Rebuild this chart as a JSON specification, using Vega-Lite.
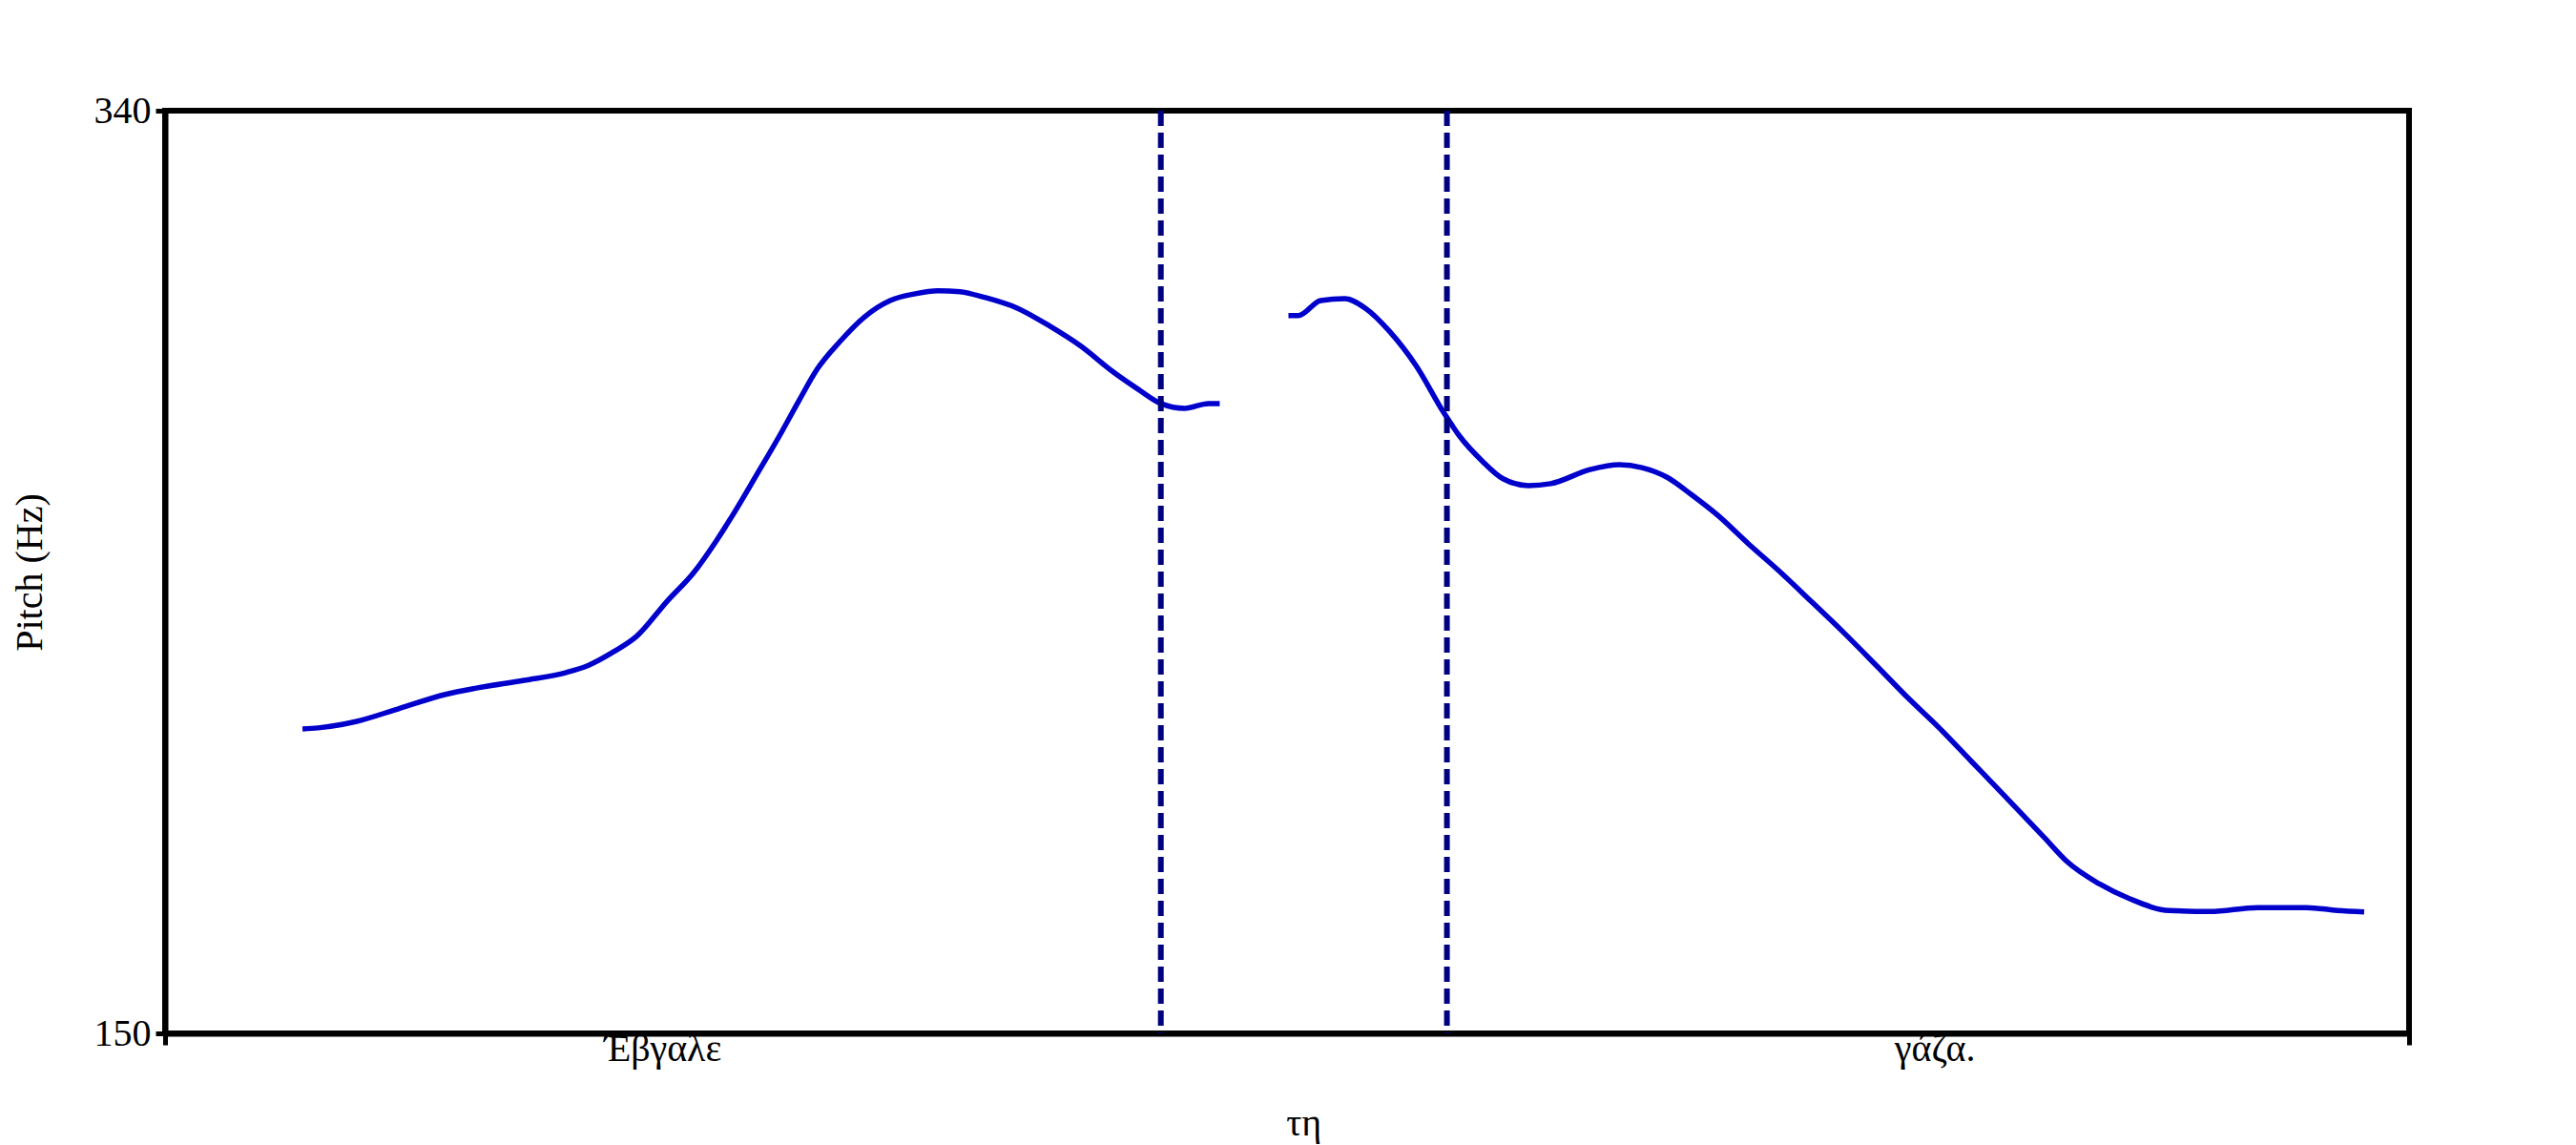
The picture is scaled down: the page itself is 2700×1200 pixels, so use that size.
{
  "$schema": "https://vega.github.io/schema/vega-lite/v6.json",
  "width": 2352,
  "height": 967,
  "autosize": {"type": "none"},
  "padding": {"left": 173, "top": 116, "right": 175, "bottom": 117},
  "background": "white",
  "config": {
    "view": {"stroke": "black", "strokeWidth": 6},
    "font": "Liberation Serif"
  },
  "datasets": {
    "pitch": [
      {"seg": "a", "t": 0.098, "hz": 212.7},
      {"seg": "a", "t": 0.109, "hz": 212.9},
      {"seg": "a", "t": 0.136, "hz": 214.2},
      {"seg": "a", "t": 0.166, "hz": 216.8},
      {"seg": "a", "t": 0.200, "hz": 219.8},
      {"seg": "a", "t": 0.222, "hz": 221.1},
      {"seg": "a", "t": 0.256, "hz": 222.7},
      {"seg": "a", "t": 0.286, "hz": 224.3},
      {"seg": "a", "t": 0.302, "hz": 225.8},
      {"seg": "a", "t": 0.320, "hz": 228.6},
      {"seg": "a", "t": 0.336, "hz": 231.7},
      {"seg": "a", "t": 0.358, "hz": 239.0},
      {"seg": "a", "t": 0.377, "hz": 244.9},
      {"seg": "a", "t": 0.393, "hz": 251.4},
      {"seg": "a", "t": 0.406, "hz": 257.3},
      {"seg": "a", "t": 0.422, "hz": 265.1},
      {"seg": "a", "t": 0.438, "hz": 273.0},
      {"seg": "a", "t": 0.452, "hz": 280.3},
      {"seg": "a", "t": 0.465, "hz": 286.8},
      {"seg": "a", "t": 0.481, "hz": 292.4},
      {"seg": "a", "t": 0.499, "hz": 297.6},
      {"seg": "a", "t": 0.517, "hz": 300.9},
      {"seg": "a", "t": 0.535, "hz": 302.3},
      {"seg": "a", "t": 0.551, "hz": 302.9},
      {"seg": "a", "t": 0.567, "hz": 302.7},
      {"seg": "a", "t": 0.585, "hz": 301.5},
      {"seg": "a", "t": 0.608, "hz": 299.3},
      {"seg": "a", "t": 0.631, "hz": 295.6},
      {"seg": "a", "t": 0.653, "hz": 291.5},
      {"seg": "a", "t": 0.676, "hz": 286.2},
      {"seg": "a", "t": 0.694, "hz": 282.6},
      {"seg": "a", "t": 0.710, "hz": 279.7},
      {"seg": "a", "t": 0.727, "hz": 278.7},
      {"seg": "a", "t": 0.744, "hz": 279.7},
      {"seg": "a", "t": 0.752, "hz": 279.7},
      {"seg": "b", "t": 0.801, "hz": 297.8},
      {"seg": "b", "t": 0.808, "hz": 297.8},
      {"seg": "b", "t": 0.824, "hz": 300.9},
      {"seg": "b", "t": 0.841, "hz": 301.3},
      {"seg": "b", "t": 0.856, "hz": 299.3},
      {"seg": "b", "t": 0.873, "hz": 294.6},
      {"seg": "b", "t": 0.892, "hz": 287.5},
      {"seg": "b", "t": 0.912, "hz": 277.7},
      {"seg": "b", "t": 0.923, "hz": 273.0},
      {"seg": "b", "t": 0.939, "hz": 267.9},
      {"seg": "b", "t": 0.954, "hz": 264.2},
      {"seg": "b", "t": 0.972, "hz": 262.8},
      {"seg": "b", "t": 0.988, "hz": 263.2},
      {"seg": "b", "t": 1.016, "hz": 266.1},
      {"seg": "b", "t": 1.037, "hz": 267.1},
      {"seg": "b", "t": 1.053, "hz": 266.5},
      {"seg": "b", "t": 1.071, "hz": 264.5},
      {"seg": "b", "t": 1.088, "hz": 261.0},
      {"seg": "b", "t": 1.107, "hz": 256.7},
      {"seg": "b", "t": 1.129, "hz": 250.8},
      {"seg": "b", "t": 1.152, "hz": 244.9},
      {"seg": "b", "t": 1.175, "hz": 238.6},
      {"seg": "b", "t": 1.197, "hz": 232.5},
      {"seg": "b", "t": 1.220, "hz": 225.8},
      {"seg": "b", "t": 1.243, "hz": 219.0},
      {"seg": "b", "t": 1.265, "hz": 212.9},
      {"seg": "b", "t": 1.288, "hz": 206.0},
      {"seg": "b", "t": 1.311, "hz": 199.1},
      {"seg": "b", "t": 1.340, "hz": 190.3},
      {"seg": "b", "t": 1.356, "hz": 185.4},
      {"seg": "b", "t": 1.379, "hz": 180.8},
      {"seg": "b", "t": 1.401, "hz": 177.7},
      {"seg": "b", "t": 1.429, "hz": 175.3},
      {"seg": "b", "t": 1.458, "hz": 175.1},
      {"seg": "b", "t": 1.492, "hz": 175.9},
      {"seg": "b", "t": 1.527, "hz": 175.9},
      {"seg": "b", "t": 1.549, "hz": 175.3},
      {"seg": "b", "t": 1.568, "hz": 175.0}
    ],
    "bounds": [
      {"t": 0.710},
      {"t": 0.914}
    ],
    "words": [
      {"word": "\u0388\u03b2\u03b3\u03b1\u03bb\u03b5", "t": 0.355, "hz": 144.3},
      {"word": "\u03c4\u03b7", "t": 0.812, "hz": 129.0},
      {"word": "\u03b3\u03ac\u03b6\u03b1.", "t": 1.262, "hz": 144.3}
    ]
  },
  "encoding": {
    "x": {
      "field": "t",
      "type": "quantitative",
      "scale": {"domain": [0, 1.6], "nice": false, "zero": false},
      "axis": {
        "title": null,
        "values": [0, 1.6],
        "labels": false,
        "grid": false,
        "domainColor": "black",
        "domainWidth": 6,
        "tickColor": "black",
        "tickWidth": 5,
        "tickSize": 12
      }
    },
    "y": {
      "field": "hz",
      "type": "quantitative",
      "scale": {"domain": [150, 340], "nice": false, "zero": false},
      "axis": {
        "title": "Pitch (Hz)",
        "values": [150, 340],
        "grid": false,
        "domainColor": "black",
        "domainWidth": 6,
        "tickColor": "black",
        "tickWidth": 5,
        "tickSize": 10,
        "labelFont": "Liberation Serif",
        "labelFontSize": 40,
        "labelColor": "black",
        "labelPadding": 5,
        "titleFont": "Liberation Serif",
        "titleFontSize": 40,
        "titleFontWeight": "normal",
        "titleColor": "black",
        "titleAngle": -90,
        "titleX": -142,
        "titleY": 483.5,
        "titleAlign": "center",
        "titleBaseline": "middle"
      }
    }
  },
  "layer": [
    {
      "data": {"name": "pitch"},
      "mark": {"type": "line", "color": "#0000CC", "strokeWidth": 5.5, "interpolate": "monotone"},
      "encoding": {"detail": {"field": "seg"}}
    },
    {
      "data": {"name": "bounds"},
      "mark": {"type": "rule", "color": "#000080", "strokeWidth": 6, "strokeDash": [16, 7]},
      "encoding": {"y": null}
    },
    {
      "data": {"name": "words"},
      "mark": {"type": "text", "font": "Liberation Serif", "fontSize": 40, "color": "black", "align": "center", "baseline": "alphabetic", "clip": false},
      "encoding": {"text": {"field": "word"}}
    }
  ]
}
